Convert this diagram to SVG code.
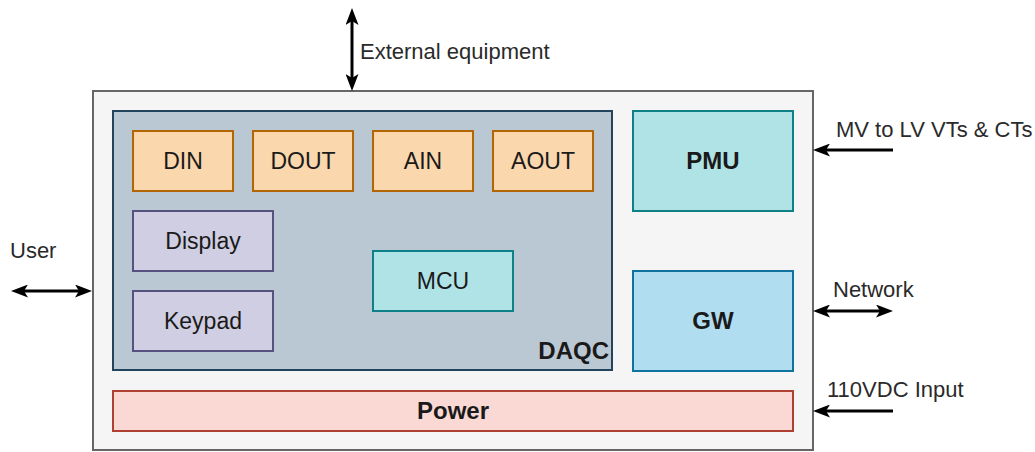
<svg xmlns="http://www.w3.org/2000/svg" width="1035" height="452" viewBox="0 0 1035 452">
<style>
  .lbl { font-family: "Liberation Sans", Arial, sans-serif; font-size: 23px; fill: #1a1a1a; text-anchor: middle; }
  .bold { font-weight: bold; font-size: 24px; }
  .ext { font-family: "Liberation Sans", Arial, sans-serif; font-size: 22px; fill: #2a2a2a; }
  .orange { fill: #fad7ac; stroke: #b46504; stroke-width: 2; }
  .purple { fill: #d0cee2; stroke: #56517e; stroke-width: 2; }
  .teal { fill: #b0e3e6; stroke: #0e8088; stroke-width: 2; }
  .blue { fill: #b1ddf0; stroke: #10739e; stroke-width: 2; }
  .conn { stroke: #000; stroke-width: 3; fill: none; }
</style>
<defs>
  <marker id="arr" viewBox="0 0 17 13" markerWidth="17" markerHeight="13" markerUnits="userSpaceOnUse" refX="4" refY="6.5" orient="auto-start-reverse">
    <path d="M17,6.5 L0,0 L4,6.5 L0,13 Z" fill="#000"/>
  </marker>
</defs>
<rect width="1035" height="452" fill="#ffffff"/>
<g id="enclosure">
  <rect x="93" y="91" width="720" height="359" fill="#f5f5f5" stroke="#666666" stroke-width="2"/>
</g>
<g id="daqc">
  <rect x="113" y="111" width="499" height="259" fill="#bac8d3" stroke="#23445d" stroke-width="2"/>
  <text class="lbl bold" x="609" y="359" style="text-anchor:end">DAQC</text>
</g>
<g id="din">
  <rect class="orange" x="133" y="131" width="100" height="60"/>
  <text class="lbl" x="183" y="169">DIN</text>
</g>
<g id="dout">
  <rect class="orange" x="253" y="131" width="100" height="60"/>
  <text class="lbl" x="303" y="169">DOUT</text>
</g>
<g id="ain">
  <rect class="orange" x="373" y="131" width="100" height="60"/>
  <text class="lbl" x="423" y="169">AIN</text>
</g>
<g id="aout">
  <rect class="orange" x="493" y="131" width="100" height="60"/>
  <text class="lbl" x="543" y="169">AOUT</text>
</g>
<g id="display">
  <rect class="purple" x="133" y="211" width="140" height="60"/>
  <text class="lbl" x="203" y="249">Display</text>
</g>
<g id="keypad">
  <rect class="purple" x="133" y="291" width="140" height="60"/>
  <text class="lbl" x="203" y="329">Keypad</text>
</g>
<g id="mcu">
  <rect class="teal" x="373" y="251" width="140" height="60"/>
  <text class="lbl" x="443" y="289">MCU</text>
</g>
<g id="pmu">
  <rect class="teal" x="633" y="111" width="160" height="100"/>
  <text class="lbl bold" x="713" y="169">PMU</text>
</g>
<g id="gw">
  <rect class="blue" x="633" y="271" width="160" height="100"/>
  <text class="lbl bold" x="713" y="329">GW</text>
</g>
<g id="power">
  <rect x="113" y="391" width="680" height="40" fill="#fad9d5" stroke="#ae4132" stroke-width="2"/>
  <text class="lbl bold" x="453" y="419">Power</text>
</g>
<g id="connectors">
  <line class="conn" x1="352" y1="21" x2="352" y2="78" marker-start="url(#arr)" marker-end="url(#arr)"/>
  <line class="conn" x1="24" y1="291" x2="79" y2="291" marker-start="url(#arr)" marker-end="url(#arr)"/>
  <line class="conn" x1="893" y1="150" x2="826" y2="150" marker-end="url(#arr)"/>
  <line class="conn" x1="826" y1="311" x2="880" y2="311" marker-start="url(#arr)" marker-end="url(#arr)"/>
  <line class="conn" x1="893" y1="411" x2="826" y2="411" marker-end="url(#arr)"/>
</g>
<g id="labels">
  <text class="ext" x="360" y="59">External equipment</text>
  <text class="ext" x="836" y="137">MV to LV VTs &amp; CTs</text>
  <text class="ext" x="10" y="258">User</text>
  <text class="ext" x="833" y="297">Network</text>
  <text class="ext" x="827" y="397">110VDC Input</text>
</g>
</svg>
